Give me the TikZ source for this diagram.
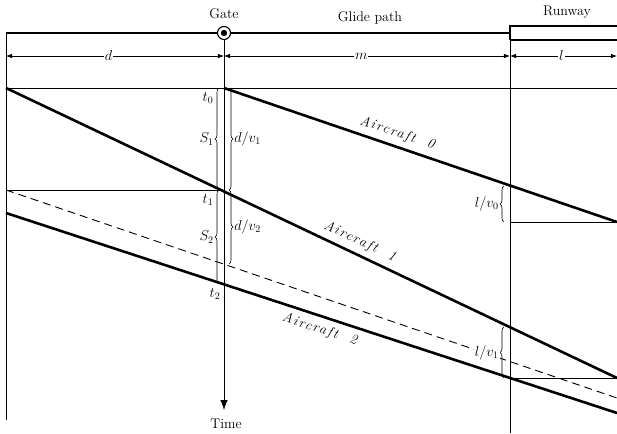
\documentclass[tikz,border=0pt]{standalone}
\usepackage{fontspec}
\newfontfamily\planefont[LetterSpace=12]{Latin Modern Roman}
\usepackage{tikz}
\usetikzlibrary{arrows.meta,decorations.pathreplacing}

\begin{document}
\begin{tikzpicture}[x=1pt, y=-1pt, font=\fontsize{14}{16}\selectfont,
    rule/.style = {line width=0.8pt},
    plane/.style = {line width=2.6pt},
    planelbl/.style = {sloped, font=\fontsize{14}{16}\planefont\itshape},
    dim/.style = {Latex-Latex, line width=0.7pt},
    brc/.style = {decorate, decoration={brace, amplitude=4pt}, line width=0.6pt},
    lbl/.style = {fill=white, inner sep=1pt}]
    \useasboundingbox (0,0) rectangle (617,433);

    % gate, glide path and runway
    \coordinate (L) at (6,33);
    \coordinate (R) at (510,33);
    \node[draw, circle, fill=white, line width=1.1pt, minimum size=13pt, inner sep=0pt] (gate) at (224,33) {};
    \fill (gate.center) circle (3.2pt);
    \draw[line width=1.3pt] (L) -- (gate) -- (R);
    \draw[line width=1.3pt] (510,40) -- (510,26) -- (617,26);
    \draw[line width=1.3pt] (510,40) -- (617,40);
    \node (gatelbl) at (224,14) {Gate};
    \node (glide) at (370,18) {Glide path};
    \node (runway) at (567,12) {Runway};

    % distances
    \draw[dim] (6,56) -- (224,56) node[pos=0.47, lbl] {$d$};
    \draw[dim] (224,56) -- (510,56) node[pos=0.48, lbl] {$m$};
    \draw[dim] (510,56) -- (617,56) node[pos=0.48, lbl] {$l$};

    % time axes
    \coordinate (tend) at (224,410);
    \node (time) at (226,424) {Time};
    \draw[rule] (L) -- (6,420);
    \draw[rule] (R) -- (510,433);
    \draw[rule, -{Latex[length=10pt]}] (gate) -- (tend);

    % crossing times
    \coordinate (t0) at (224,88);
    \coordinate (t1) at (224,190);
    \coordinate (t2) at (224,284);
    \coordinate (e1) at (224,264);
    \coordinate (r0) at (510,186);
    \coordinate (x0) at (510,222);
    \coordinate (r1) at (510,327);
    \coordinate (x1) at (510,378);
    \draw[rule] (6,88) -- (617,88);
    \draw[rule] (6,190) -- (t1);
    \draw[rule] (x0) -- (617,222);
    \draw[rule] (x1) -- (617,378);

    % aircraft
    \coordinate (A0e) at (617,222);
    \coordinate (A1s) at (6,88);
    \coordinate (A1e) at (617,378);
    \coordinate (A2s) at (6,213);
    \coordinate (A2e) at (617,413);
    \draw[plane] (t0) -- (A0e) node[planelbl, pos=0.43, above=2pt] {Aircraft\ \ 0};
    \draw[plane] (A1s) -- (A1e) node[planelbl, pos=0.57, above=2pt] {Aircraft\ \ 1};
    \draw[plane] (A2s) -- (A2e) node[planelbl, pos=0.52, below=2pt] {Aircraft\ \ 2};
    \draw[line width=0.9pt, dash pattern=on 8pt off 5pt] (6,190) -- (617,398);

    % labels at the gate
    \node (lt0) at (208,98) {$t_0$};
    \node (lt1) at (208,200) {$t_1$};
    \node (lt2) at (215,294) {$t_2$};
    \draw[brc] ([xshift=-5pt]t1) -- ([xshift=-5pt]t0) node[midway, left=4pt, inner sep=1pt] {$S_1$};
    \draw[brc] ([xshift=5pt]t0) -- ([xshift=5pt]t1) node[midway, right=4pt, inner sep=1pt] {$d/v_1$};
    \draw[brc] ([xshift=-5pt]t2) -- ([xshift=-5pt]t1) node[midway, left=4pt, inner sep=1pt] {$S_2$};
    \draw[brc] ([xshift=5pt]t1) -- ([xshift=5pt]e1) node[midway, right=4pt, inner sep=1pt] {$d/v_2$};

    % runway occupancy
    \draw[brc] ([xshift=-6pt]x0) -- ([xshift=-6pt]r0) node[midway, left=4pt, inner sep=1pt] {$l/v_0$};
    \draw[brc] ([xshift=-6pt]x1) -- ([xshift=-6pt]r1) node[midway, left=4pt, lbl] {$l/v_1$};
\end{tikzpicture}
\end{document}
